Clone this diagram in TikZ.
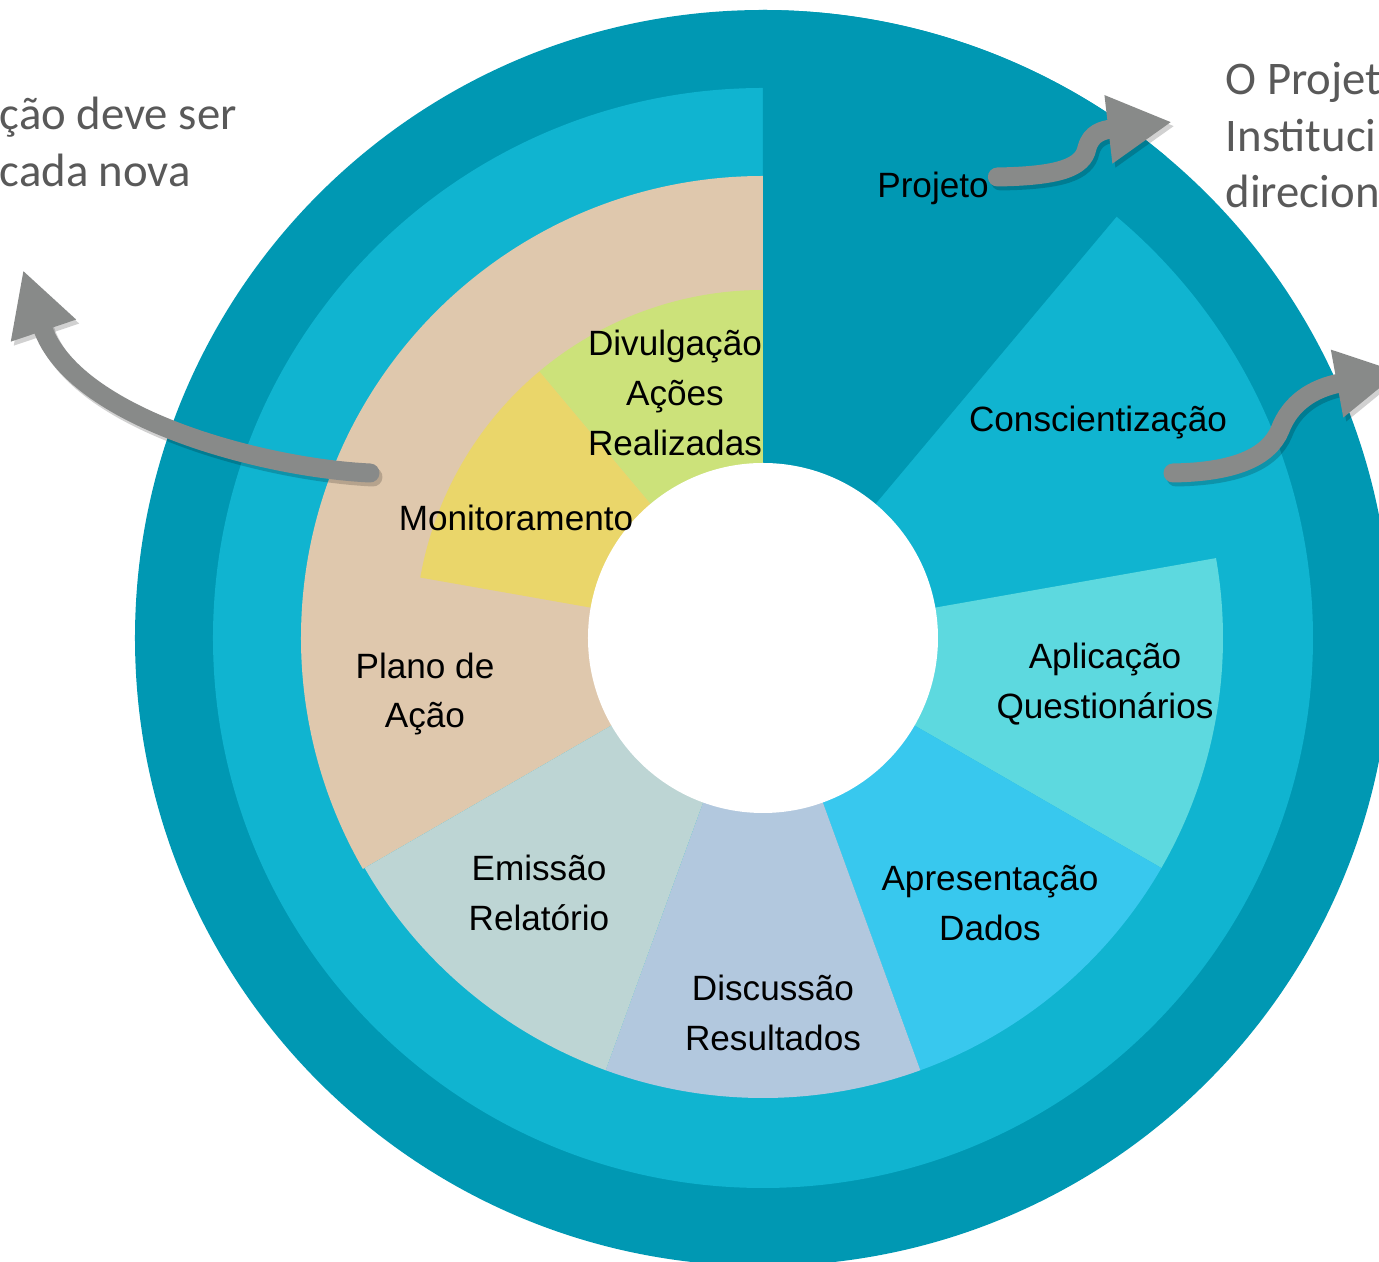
\documentclass[tikz,border=0pt]{standalone}
\usepackage{fontspec}
\setmainfont{Carlito}
\newfontfamily\lblfont{Liberation Sans}
\usepackage{tikz}
\usetikzlibrary{positioning,calc,arrows.meta}

\definecolor{tealdark}{HTML}{0098B3}
\definecolor{teallight}{HTML}{10B4D0}
\definecolor{planotan}{HTML}{DFC8AD}
\definecolor{divgreen}{HTML}{CCE27A}
\definecolor{monyellow}{HTML}{EAD66A}
\definecolor{aplcyan}{HTML}{5DD9DF}
\definecolor{aprblue}{HTML}{38C8EE}
\definecolor{discblue}{HTML}{B2C8DE}
\definecolor{emisgrey}{HTML}{BDD5D4}
\definecolor{arrowgrey}{HTML}{888A89}
\definecolor{sidegrey}{HTML}{595959}

\begin{document}
\begin{tikzpicture}[
  lbl/.style={font=\lblfont\fontsize{10}{14.2}\selectfont, align=center, inner sep=0pt},
  side/.style={font=\fontsize{13.3}{16.2}\selectfont, text=sidegrey, inner sep=0pt, anchor=base west},
  bigarrow/.style={draw=arrowgrey, line width=0.19cm, line cap=round, -{Triangle[length=0.64cm,width=0.64cm]}},
  arrowshadow/.style={bigarrow, draw=black, opacity=0.18, transform canvas={shift={(0.03,-0.04)}}}
]
\useasboundingbox (-7.63,-6.24) rectangle (6.16,6.38);
\clip (-7.63,-6.24) rectangle (6.16,6.38);

% outer rings
\fill[tealdark] (0,0) circle (6.28);
\fill[teallight] (0,0) circle (5.50);
% Projeto reaches the outer rim
\fill[tealdark] (0,0) -- (50:6.28) arc (50:90:6.28) -- cycle;

% stages of the cycle
\foreach \a/\b/\r/\c in {90/210/4.62/planotan, 90/130/3.48/divgreen, 130/170/3.48/monyellow,
    -30/10/4.60/aplcyan, -70/-30/4.60/aprblue, -110/-70/4.60/discblue, -150/-110/4.60/emisgrey} {
  \fill[\c] (0,0) -- (\a:\r) arc (\a:\b:\r) -- cycle;
}
\fill[white] (0,0) circle (1.75);

% labels
\node[lbl] (projeto) at (1.70,4.50) {Projeto};
\node[lbl] (consc) at (3.35,2.15) {Conscientização};
\node[lbl] (aplic) at (3.42,-0.46) {Aplicação\\Questionários};
\node[lbl] (apres) at (2.27,-2.65) {Apresentação\\Dados};
\node[lbl] (discus) at (0.10,-3.75) {Discussão\\Resultados};
\node[lbl] (emissao) at (-2.24,-2.55) {Emissão\\Relatório};
\node[lbl] (plano) at (-3.38,-0.56) {Plano de\\Ação};
\node[lbl] (monit) at (-2.47,1.20) {Monitoramento};
\node[lbl] (divulg) at (-0.88,2.45) {Divulgação\\Ações\\Realizadas};

% side notes (cut by the page)
\node[side] (avaltxt1) at (-7.64,5.08) {ção deve ser};
\node[side] (avaltxt2) at (-7.64,4.51) {cada nova};
\node[side] (projtxt1) at (4.62,5.43) {O Projet};
\node[side] (projtxt2) at (4.62,4.86) {Instituci};
\node[side] (projtxt3) at (4.62,4.30) {direcion};

% arrow ends
\coordinate (projtail) at ([shift={(0.08,0.11)}]projeto.east);
\coordinate (projtip) at (4.09,5.16);
\coordinate (consctail) at (4.10,1.65);
\coordinate (consctip) at (6.37,2.66);
\coordinate (avaltail) at (-3.93,1.65);
\coordinate (avaltip) at (-7.40,3.68);

% arrows
\foreach \s in {arrowshadow, bigarrow} {
  \draw[\s] (projtail) .. controls (2.95,4.62) and (3.20,4.70) .. (3.24,4.90)
    .. controls (3.28,5.05) and (3.40,5.08) .. (projtip);
  \draw[\s] (consctail) .. controls (4.70,1.66) and (5.05,1.80) .. (5.17,2.08)
    .. controls (5.27,2.35) and (5.50,2.50) .. (consctip);
  \draw[\s] (avaltail) .. controls (-5.00,1.70) and (-6.90,2.20) .. (avaltip);
}
\end{tikzpicture}
\end{document}
